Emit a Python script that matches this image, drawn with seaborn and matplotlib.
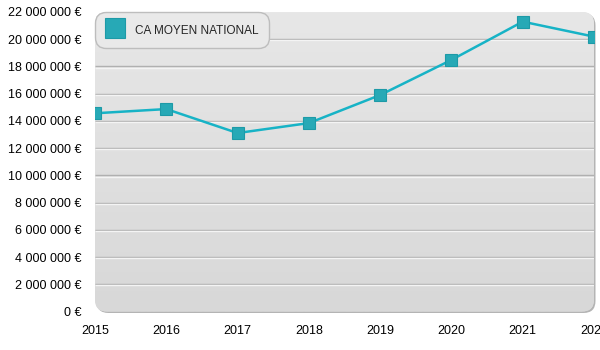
import numpy as np
import pandas as pd
import matplotlib
matplotlib.use('Agg')
import matplotlib.pyplot as plt
import seaborn as sns
from matplotlib.patches import FancyBboxPatch
from matplotlib.lines import Line2D
import matplotlib.transforms as mtrans
from matplotlib.ticker import FuncFormatter

years = [2015, 2016, 2017, 2018, 2019, 2020, 2021, 2022]
ca_moyen = [14.56e6, 14.87e6, 13.11e6, 13.84e6, 15.90e6, 18.48e6, 21.29e6, 20.19e6]
series_label = "CA MOYEN NATIONAL"
y_ticks = list(range(0, 22_000_001, 2_000_000))

sns.set_theme(style='white')
plt.rcParams['font.family'] = ['Liberation Sans', 'DejaVu Sans']

df = pd.DataFrame({'year': years, 'value': ca_moyen})

W, H = 600, 350
fig = plt.figure(figsize=(6, 3.5), dpi=100)
fig.patch.set_facecolor('white')
pos = [95 / W, 1 - 311.5 / H, 499 / W, 299.5 / H]
ax_w_px, ax_h_px = 499, 299.5

# background axes with rounded gradient panel
bg = fig.add_axes(pos, zorder=0)
bg.set_axis_off()
bg.set_xlim(0, 1)
bg.set_ylim(0, 1)
r = 12 / ax_w_px
asp = ax_w_px / ax_h_px
shadow = FancyBboxPatch((0, 0), 1, 1, boxstyle=f"round,pad=0,rounding_size={r}",
                        mutation_aspect=asp, transform=bg.transAxes + mtrans.ScaledTranslation(1.5/100, -1.5/100, fig.dpi_scale_trans),
                        facecolor='#b4b4b4', edgecolor='none', clip_on=False, zorder=0)
bg.add_patch(shadow)
panel = FancyBboxPatch((0, 0), 1, 1, boxstyle=f"round,pad=0,rounding_size={r}",
                       mutation_aspect=asp, transform=bg.transAxes,
                       facecolor='#e0e0e0', edgecolor='none', clip_on=False, zorder=1)
bg.add_patch(panel)
grad = np.linspace(0, 1, 256).reshape(-1, 1)
cmap = matplotlib.colors.LinearSegmentedColormap.from_list('g', ['#e7e7e7', '#d8d8d8'])
im = bg.imshow(grad, extent=[0, 1, 0, 1], aspect='auto', cmap=cmap, origin='upper', zorder=2,
               transform=bg.transAxes)
im.set_clip_path(panel)

ax = fig.add_axes(pos, zorder=1)
ax.patch.set_visible(False)

# embossed grid lines
ax.hlines(y_ticks[1:-1], years[0], years[-1], colors='#b0b0b0', lw=1.0, zorder=1)
ax.hlines(y_ticks[1:-1], years[0], years[-1], colors='#f4f4f4', lw=1.0, zorder=1,
          transform=ax.transData + mtrans.ScaledTranslation(0, -1.2/100, fig.dpi_scale_trans))

sns.lineplot(data=df, x='year', y='value', ax=ax, color='#17b3c6', lw=1.8,
             marker='s', markersize=9, markerfacecolor='#27a9b6', markeredgecolor='#1d9aa7',
             markeredgewidth=0.8, zorder=3)

ax.set_xlim(years[0], years[-1])
ax.set_ylim(0, 22_000_000)
ax.set_xticks(years)
ax.set_xticklabels([str(y) for y in years])
ax.set_yticks(y_ticks)
ax.yaxis.set_major_formatter(FuncFormatter(lambda v, p: f"{int(v):,}".replace(',', ' ') + ' €'))
ax.tick_params(axis='both', length=0, labelsize=9, colors='black')
ax.tick_params(axis='y', pad=9.5)
ax.tick_params(axis='x', pad=10)
ax.set_xlabel('')
ax.set_ylabel('')
for s in ax.spines.values():
    s.set_visible(False)

handle = Line2D([], [], marker='s', ls='none', markersize=14,
                markerfacecolor='#27a9b6', markeredgecolor='#1d9aa7', markeredgewidth=0.8)
leg = ax.legend([handle], [series_label], loc='upper left', bbox_to_anchor=(0, 1),
                borderaxespad=0, frameon=True, fancybox=True, fontsize=8.5,
                facecolor='#e9e9e9', edgecolor='#bdbdbd', framealpha=1,
                borderpad=0.85, handlelength=1.7, handleheight=1.65, handletextpad=0.85)
leg.get_frame().set_boxstyle('round,pad=0,rounding_size=0.9')
leg.get_frame().set_linewidth(1.0)
leg.set_zorder(5)

fig.savefig('out.png', dpi=100)
